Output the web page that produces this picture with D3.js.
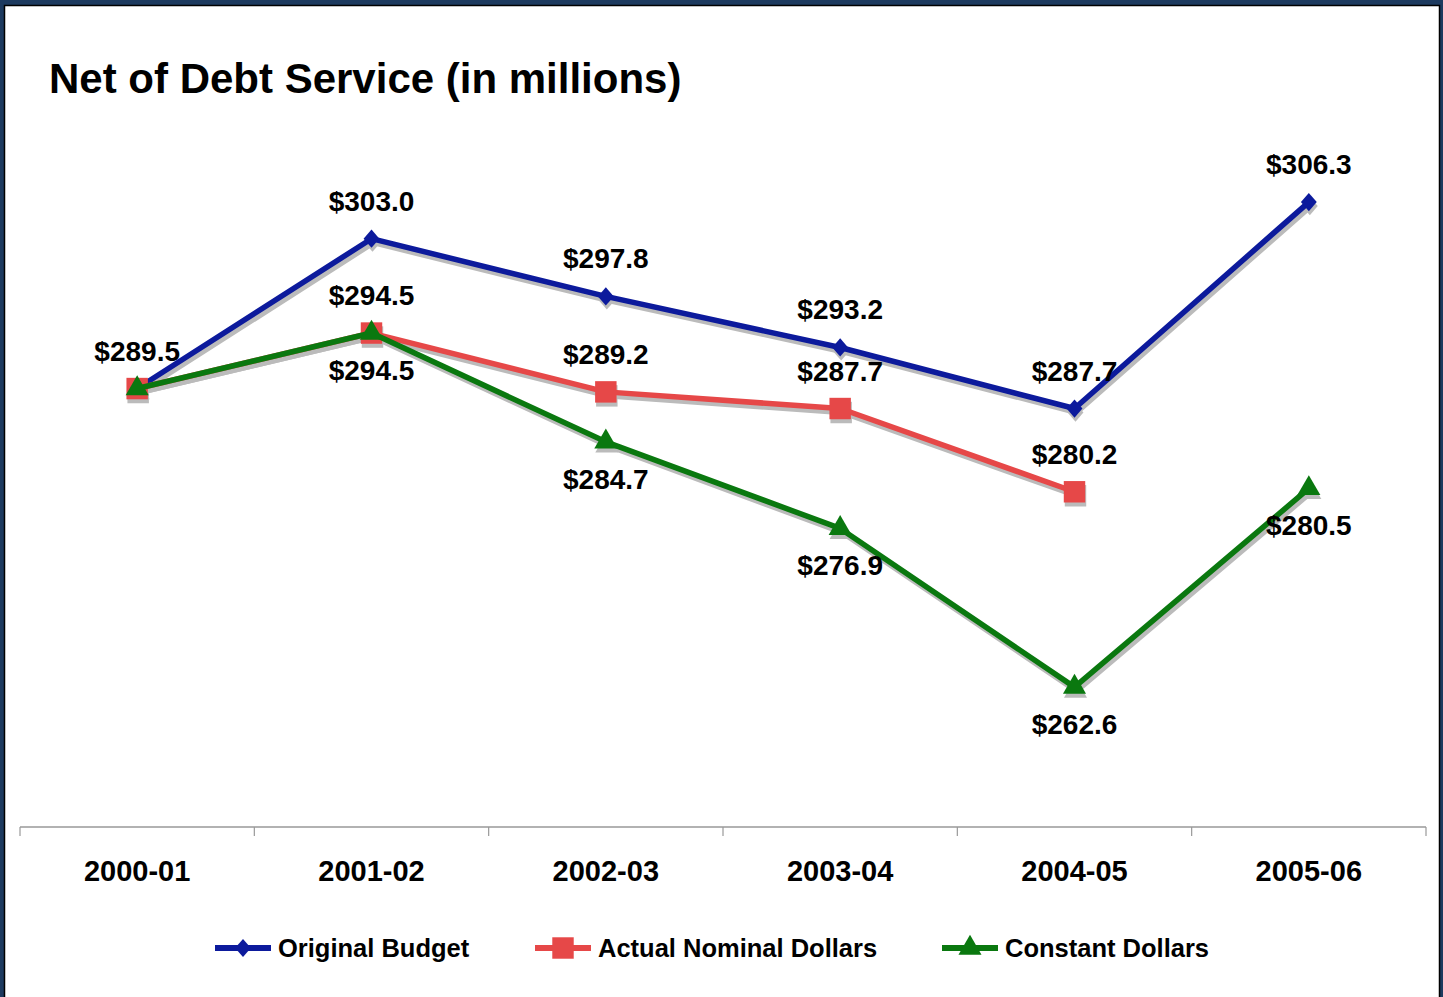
<!DOCTYPE html>
<html>
<head>
<meta charset="utf-8">
<script src="https://cdn.jsdelivr.net/npm/d3@7"></script>
<style>
  body { margin: 0; background: #1d3a5f; }
  svg { display: block; }
</style>
</head>
<body>
<svg id="chart" width="1443" height="997"></svg>
<script>
const years = ["2000-01", "2001-02", "2002-03", "2003-04", "2004-05", "2005-06"];
const originalBudget = [289.5, 303.0, 297.8, 293.2, 287.7, 306.3];
const actualNominal = [289.5, 294.5, 289.2, 287.7, 280.2, null];
const constantDollars = [289.5, 294.5, 284.7, 276.9, 262.6, 280.5];

const series = [
  { name: "Original Budget", values: originalBudget, color: "#0c1a9c", marker: "diamond", labelPos: "above", skipFirst: false },
  { name: "Actual Nominal Dollars", values: actualNominal, color: "#e64848", marker: "square", labelPos: "above", skipFirst: true },
  { name: "Constant Dollars", values: constantDollars, color: "#0a780f", marker: "triangle", labelPos: "below", skipFirst: true }
];

const font = "Liberation Sans, Arial, sans-serif";
const svg = d3.select("#chart");

// panel
svg.append("rect").attr("x", 4.5).attr("y", 5.5).attr("width", 1435).attr("height", 997)
  .attr("fill", "#fff").attr("stroke", "#000").attr("stroke-width", 1.5);

svg.append("text").attr("x", 49).attr("y", 93)
  .attr("font-family", font).attr("font-weight", "bold")
  .attr("font-size", 42).text("Net of Debt Service (in millions)");

const x = d3.scaleBand().domain(years).range([20, 1426]);
const y = d3.scaleLinear().domain([250, 310]).range([827, 161]);
const cx = d => x(d) + x.bandwidth() / 2;

// axis
const axis = svg.append("g").attr("transform", "translate(0,827)")
  .call(d3.axisBottom(x).tickSize(0).tickPadding(0));
axis.select(".domain").attr("stroke", "#999").attr("stroke-width", 1.5).attr("d", "M20,0H1426");
axis.selectAll(".tick text").remove();
const edges = x.domain().map(d => x(d)).concat([x.range()[1]]);
axis.selectAll(".edge").data(edges).join("line").attr("class", "edge")
  .attr("x1", d => d).attr("x2", d => d).attr("y1", 0).attr("y2", 9)
  .attr("stroke", "#999").attr("stroke-width", 1.2);

svg.append("g").selectAll("text").data(years).join("text")
  .attr("x", d => cx(d)).attr("y", 881).attr("text-anchor", "middle")
  .attr("font-family", font).attr("font-weight", "bold")
  .attr("font-size", 29).text(d => d);

const markerPath = (type, s) => {
  if (type === "diamond") return d3.symbol(d3.symbolDiamond2 || d3.symbolDiamond, s)();
  if (type === "square") return d3.symbol(d3.symbolSquare, s)();
  return d3.symbol(d3.symbolTriangle, s)();
};
const markerSize = { diamond: 160, square: 460, triangle: 230 };
const mt = t => t === "diamond" ? " scale(1,1.15)" : "";

const line = d3.line().defined(d => d.v != null).x(d => cx(d.year)).y(d => y(d.v));
const pointsOf = s => years.map((yr, i) => ({ year: yr, v: s.values[i], i }));

// shadows first
const shadow = svg.append("g");
series.forEach(s => {
  const pts = pointsOf(s);
  shadow.append("path").datum(pts).attr("d", line).attr("fill", "none")
    .attr("stroke", "#bbb").attr("stroke-width", 5.5).attr("transform", "translate(2,4)");
  shadow.append("g").selectAll("path").data(pts.filter(d => d.v != null)).join("path")
    .attr("d", markerPath(s.marker, markerSize[s.marker]))
    .attr("transform", d => `translate(${cx(d.year) + 1},${y(d.v) + 4})${mt(s.marker)}`)
    .attr("fill", "#bbb");
});

series.forEach(s => {
  const pts = pointsOf(s);
  const g = svg.append("g");
  g.append("path").datum(pts).attr("d", line).attr("fill", "none")
    .attr("stroke", s.color).attr("stroke-width", 5.5).attr("stroke-linejoin", "round");
  g.append("g").selectAll("path").data(pts.filter(d => d.v != null)).join("path")
    .attr("d", markerPath(s.marker, markerSize[s.marker]))
    .attr("transform", d => `translate(${cx(d.year)},${y(d.v)})${mt(s.marker)}`)
    .attr("fill", s.color);
});

// labels
series.forEach(s => {
  const pts = pointsOf(s).filter(d => d.v != null && !(s.skipFirst && d.i === 0));
  svg.append("g").selectAll("text").data(pts).join("text")
    .attr("x", d => cx(d.year)).attr("y", d => y(d.v) + (s.labelPos === "above" ? -28 : 47))
    .attr("text-anchor", "middle")
    .attr("font-family", font).attr("font-weight", "bold")
    .attr("font-size", 28).text(d => "$" + d.v.toFixed(1));
});

// legend
const legendX = [215, 535, 942];
const lg = svg.append("g").selectAll("g").data(series).join("g")
  .attr("transform", (d, i) => `translate(${legendX[i]},948)`);
lg.append("line").attr("x1", 0).attr("x2", 56).attr("y1", 0).attr("y2", 0)
  .attr("stroke", d => d.color).attr("stroke-width", 6);
lg.append("path").attr("d", d => markerPath(d.marker, markerSize[d.marker]))
  .attr("transform", d => `translate(28,0)${mt(d.marker)}`)
  .attr("fill", d => d.color);
lg.append("text").attr("x", 63).attr("y", 9)
  .attr("font-family", font).attr("font-weight", "bold")
  .attr("font-size", 25.5).text(d => d.name);
</script>
</body>
</html>
